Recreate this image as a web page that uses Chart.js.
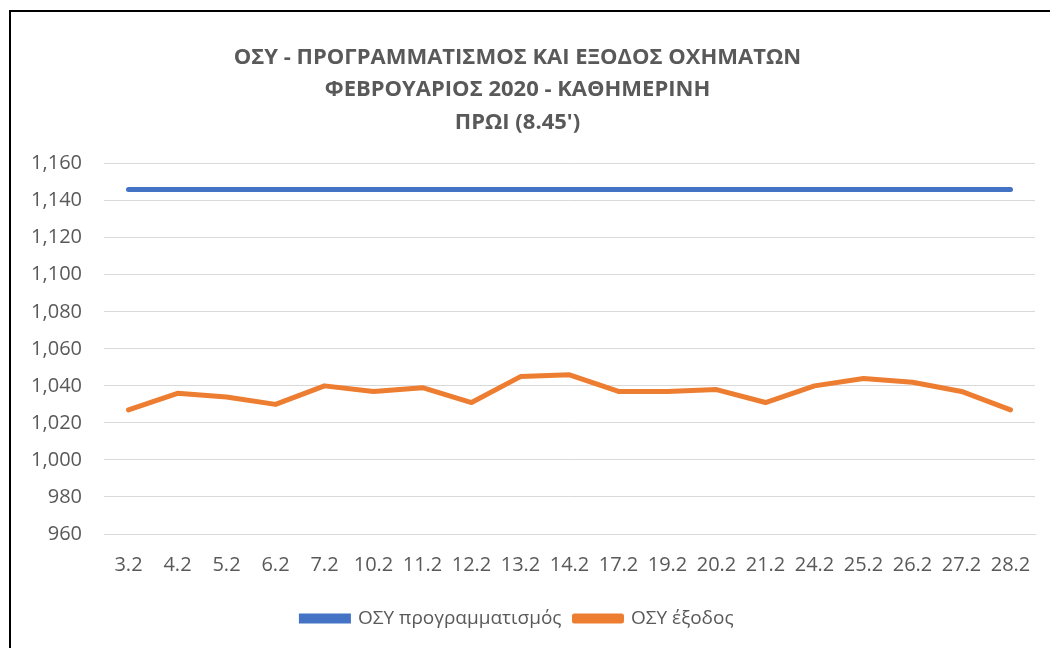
<!DOCTYPE html>
<html>
<head>
<meta charset="utf-8">
<script src="https://cdn.jsdelivr.net/npm/chart.js@4.4.1/dist/chart.umd.min.js"></script>
<style>
  body { margin: 0; background: #fff; }
  #frame { position: absolute; left: 9px; top: 10px; width: 1100px; height: 700px;
           border-left: 2px solid #000; border-top: 2px solid #000; }
  #wrap { position: absolute; left: 0; top: 0; width: 1050px; height: 648px; }
</style>
</head>
<body>
<div id="frame"></div>
<div id="wrap"><canvas id="myChart"></canvas></div>
<script>
'use strict';

// ********** DATA **********

let days = ['3.2','4.2','5.2','6.2','7.2','10.2','11.2','12.2','13.2','14.2',
  '17.2','19.2','20.2','21.2','24.2','25.2','26.2','27.2','28.2'];
let planned = [1146,1146,1146,1146,1146,1146,1146,1146,1146,1146,
  1146,1146,1146,1146,1146,1146,1146,1146,1146];
let departed = [1027,1036,1034,1030,1040,1037,1039,1031,1045,1046,
  1037,1037,1038,1031,1040,1044,1042,1037,1027];
let seriesNames = ['ΟΣΥ προγραμματισμός', 'ΟΣΥ έξοδος'];
let titleLines = ['ΟΣΥ - ΠΡΟΓΡΑΜΜΑΤΙΣΜΟΣ ΚΑΙ ΕΞΟΔΟΣ ΟΧΗΜΑΤΩΝ',
  'ΦΕΒΡΟΥΑΡΙΟΣ 2020 - ΚΑΘΗΜΕΡΙΝΗ', "ΠΡΩΙ (8.45')"];
let yMin = 960, yMax = 1160, yStep = 20;

// ********** CHART **********

let displayResults = document.querySelector('#myChart');
let fontMain = "'Open Sans', 'Noto Sans', sans-serif";
let grey = '#595959';

Chart.defaults.color = grey;
Chart.defaults.font.family = fontMain;

let chartData = {
  type: 'line',
  data: {
    labels: days,
    datasets: [
      {label: seriesNames[0],
        data: planned,
        borderColor: '#4472C4',
        backgroundColor: '#4472C4',
        borderWidth: 5,
        borderCapStyle: 'round',
        pointRadius: 0,
        tension: 0},
      {label: seriesNames[1],
        data: departed,
        borderColor: '#ED7D31',
        backgroundColor: '#ED7D31',
        borderWidth: 5,
        borderCapStyle: 'round',
        borderJoinStyle: 'round',
        pointRadius: 0,
        tension: 0}]},
  options: {
    responsive: true,
    maintainAspectRatio: false,
    animation: false,
    layout: {padding: {left: 0, right: 15, top: 0, bottom: 10}},
    plugins: {
      title: {display: true, text: titleLines, color: grey,
        font: {size: 22, weight: 'bold', lineHeight: 1.48},
        padding: {top: 41, bottom: 25}},
      legend: {position: 'bottom',
        labels: {boxWidth: 47, boxHeight: 5, padding: 13, color: grey,
          font: {size: 19}}},
      tooltip: {enabled: false}
    },
    scales: {
      x: {offset: true,
        grid: {display: false, drawTicks: false},
        border: {color: '#D9D9D9', width: 1},
        ticks: {padding: 19, font: {size: 20}, maxRotation: 0, autoSkip: false}},
      y: {min: yMin, max: yMax,
        afterFit: function(scale) { scale.width = 104; },
        grid: {color: '#D9D9D9', drawTicks: false},
        border: {display: false},
        ticks: {stepSize: yStep, padding: 22, font: {size: 20}}}
    }
  }
};

new Chart(displayResults, chartData);
</script>
</body>
</html>
